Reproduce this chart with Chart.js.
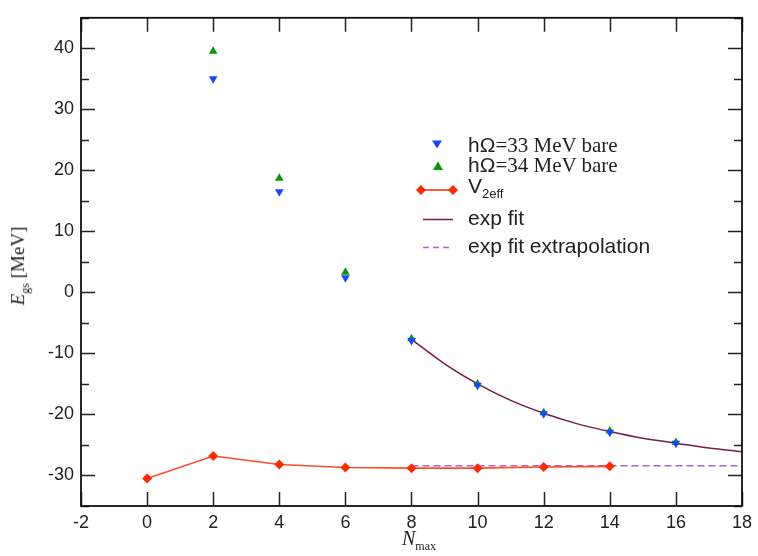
<!DOCTYPE html>
<html>
<head>
<meta charset="utf-8">
<script src="https://cdn.jsdelivr.net/npm/chart.js@4.4.1/dist/chart.umd.min.js"></script>
<style>
    html, body { margin: 0; padding: 0; background: #fff; }
    #wrap { position: relative; width: 758px; height: 556px; }
    #plot { position: absolute; left: 0; top: 0; }
    .ytitle {
        position: absolute; left: 20px; top: 266px;
        transform: translate(-50%, -50%) rotate(-90deg);
        font-family: "Liberation Serif", serif; font-size: 19px; color: #222; white-space: nowrap;
    }
    .xtitle {
        position: absolute; left: 402px; top: 527px;
        font-family: "Liberation Serif", serif; font-size: 20px; color: #222; white-space: nowrap;
    }
    .ytitle sub, .xtitle sub { font-size: 12px; }
    .sym { position: absolute; }
    .txt { position: absolute; left: 468px; font-size: 21px; line-height: 21px; color: #222; white-space: nowrap; }
    .txt sub { font-size: 13px; }
    .serif { font-family: "Liberation Serif", serif; }
    .sans { font-family: "Liberation Sans", sans-serif; }
</style>
</head>
<body>
<div id="wrap">
    <canvas id="plot" width="758" height="556"></canvas>
    <div class="ytitle"><i>E</i><sub>gs</sub> [MeV]</div>
    <div class="xtitle"><i>N</i><sub>max</sub></div>

    <svg class="sym" width="758" height="556" style="left:0;top:0">
        <polygon points="432,140.5 442,140.5 437,148.5" fill="#1a45ff"/>
        <polygon points="433,170 443,170 438,161.5" fill="#0a960a"/>
        <line x1="421" y1="190" x2="453" y2="190" stroke="#ff5a3c" stroke-width="2"/>
        <polygon points="421,185 426,190 421,195 416,190" fill="#ff2a00"/>
        <polygon points="453,185 458,190 453,195 448,190" fill="#ff2a00"/>
        <line x1="423" y1="219.5" x2="453" y2="219.5" stroke="#7a1a4a" stroke-width="1.5"/>
        <line x1="423" y1="247.5" x2="453" y2="247.5" stroke="#a860e0" stroke-width="1.5" stroke-dasharray="6,4"/>
    </svg>
    <div class="txt" style="top:134px"><span class="sans">hΩ</span><span class="serif">=33 MeV bare</span></div>
    <div class="txt" style="top:154px"><span class="sans">hΩ</span><span class="serif">=34 MeV bare</span></div>
    <div class="txt sans" style="top:175px">V<sub>2eff</sub></div>
    <div class="txt sans" style="top:207px">exp fit</div>
    <div class="txt sans" style="top:235px">exp fit extrapolation</div>
</div>
<script>
// ground-state energies vs. model space size
const nmaxBare = [2, 4, 6, 8, 10, 12, 14, 16];
const bare33 = [35.0, 16.5, 2.4, -7.9, -15.2, -19.9, -22.9, -24.7];
const bare34 = [39.5, 18.7, 3.3, -7.6, -15.0, -19.7, -22.7, -24.6];

const nmaxV2 = [0, 2, 4, 6, 8, 10, 12, 14];
const v2eff = [-30.5, -26.8, -28.2, -28.7, -28.8, -28.8, -28.6, -28.5];

const nmaxFit = [8, 9, 10, 11, 12, 13, 14, 15, 16, 17, 18];
const expFit = [-7.7, -11.7, -15.0, -17.7, -19.8, -21.5, -22.8, -23.9, -24.7, -25.5, -26.1];

const nmaxExtrap = [8, 18];
const extrap = [-28.4, -28.4];

const xTicks = [-2, 0, 2, 4, 6, 8, 10, 12, 14, 16, 18];
const yTicks = [-30, -20, -10, 0, 10, 20, 30, 40];
const yMinor = [-35, -25, -15, -5, 5, 15, 25, 35, 45];

const pts = (xs, ys) => xs.map((x, i) => ({ x, y: ys[i] }));

// frame and inward ticks on all four sides
const frameTicks = {
    id: 'frameTicks',
    afterDraw(chart) {
        const { ctx, chartArea: a, scales: { x, y } } = chart;
        ctx.save();
        ctx.strokeStyle = '#222';
        ctx.lineWidth = 1.5;
        ctx.beginPath();
        xTicks.forEach(v => {
            const px = Math.round(x.getPixelForValue(v)) + 0.5;
            ctx.moveTo(px, a.bottom); ctx.lineTo(px, a.bottom - 14);
            ctx.moveTo(px, a.top); ctx.lineTo(px, a.top + 14);
        });
        yTicks.forEach(v => {
            const py = Math.round(y.getPixelForValue(v)) + 0.5;
            ctx.moveTo(a.left, py); ctx.lineTo(a.left + 14, py);
            ctx.moveTo(a.right, py); ctx.lineTo(a.right - 14, py);
        });
        yMinor.forEach(v => {
            const py = Math.round(y.getPixelForValue(v)) + 0.5;
            ctx.moveTo(a.left, py); ctx.lineTo(a.left + 8, py);
            ctx.moveTo(a.right, py); ctx.lineTo(a.right - 8, py);
        });
        ctx.stroke();
        ctx.strokeStyle = '#111';
        ctx.lineWidth = 1.8;
        ctx.strokeRect(a.left, a.top, a.right - a.left, a.bottom - a.top);
        ctx.restore();
    }
};

new Chart(document.getElementById('plot'), {
    type: 'scatter',
    data: {
        datasets: [
            {
                label: 'V2eff',
                data: pts(nmaxV2, v2eff),
                showLine: true,
                borderColor: '#ff4a2c',
                borderWidth: 1.6,
                pointStyle: 'rectRot',
                pointRadius: 5,
                pointBackgroundColor: '#ff2a00',
                pointBorderColor: '#ff2a00',
                pointBorderWidth: 0
            },
            {
                label: 'exp fit extrapolation',
                data: pts(nmaxExtrap, extrap),
                showLine: true,
                borderColor: '#a860e0',
                borderWidth: 1.5,
                borderDash: [7, 4],
                pointRadius: 0
            },
            {
                label: 'hΩ=33 MeV bare',
                data: pts(nmaxBare, bare33),
                pointStyle: 'triangle',
                rotation: 180,
                pointRadius: 5,
                pointBackgroundColor: '#1a45ff',
                pointBorderColor: '#1a45ff',
                pointBorderWidth: 0
            },
            {
                label: 'hΩ=34 MeV bare',
                data: pts(nmaxBare, bare34),
                pointStyle: 'triangle',
                pointRadius: 5,
                pointBackgroundColor: '#0a960a',
                pointBorderColor: '#0a960a',
                pointBorderWidth: 0
            },
            {
                label: 'exp fit',
                data: pts(nmaxFit, expFit),
                showLine: true,
                cubicInterpolationMode: 'monotone',
                borderColor: '#7a1a4a',
                borderWidth: 1.5,
                pointRadius: 0
            }
        ]
    },
    options: {
        responsive: false,
        animation: false,
        layout: { padding: { left: 0, right: 16, top: 13, bottom: 0 } },
        plugins: { legend: { display: false }, tooltip: { enabled: false } },
        scales: {
            x: {
                type: 'linear',
                min: -2,
                max: 18,
                grid: { display: false, drawTicks: false },
                border: { display: false },
                ticks: {
                    stepSize: 2,
                    padding: 6,
                    color: '#222',
                    font: { family: 'Liberation Sans', size: 18 }
                },
                afterFit: s => { s.height = 50; }
            },
            y: {
                type: 'linear',
                min: -35,
                max: 45,
                grid: { display: false, drawTicks: false },
                border: { display: false },
                ticks: {
                    padding: 7,
                    color: '#222',
                    font: { family: 'Liberation Sans', size: 18 }
                },
                afterBuildTicks: s => { s.ticks = yTicks.map(v => ({ value: v })); },
                afterFit: s => { s.width = 81; }
            }
        }
    },
    plugins: [frameTicks]
});
</script>
</body>
</html>
